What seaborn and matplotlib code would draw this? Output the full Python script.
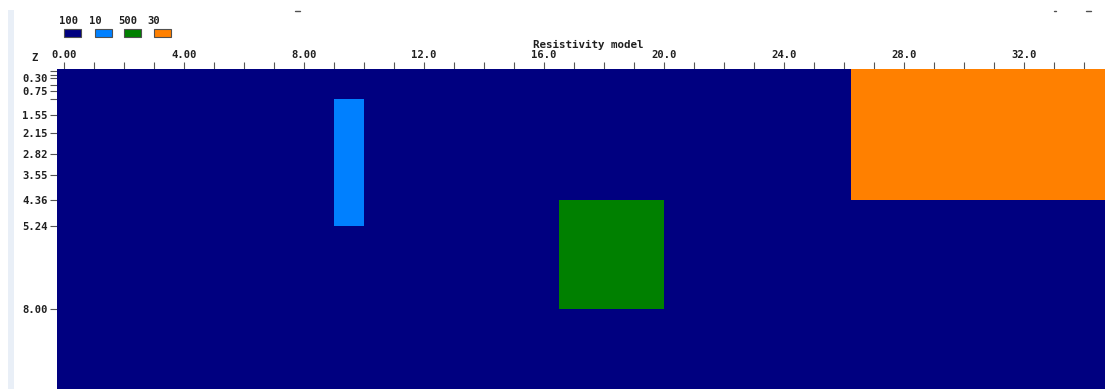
import numpy as np
import matplotlib
matplotlib.use("Agg")
import matplotlib.pyplot as plt
from matplotlib.colors import ListedColormap, BoundaryNorm
from matplotlib.patches import Rectangle
from matplotlib.lines import Line2D
import seaborn as sns

# Resistivity classes shown in the legend (ohm.m) and their colours
legend_values = [100, 10, 500, 30]
legend_colors = ["#000080", "#0080ff", "#008000", "#ff8000"]

# Homogeneous background resistivity
background_res = 100

# Anomalous blocks: horizontal extent (m), depth extent (m), resistivity
block_x_left = [9.0, 16.5, 26.25]
block_x_right = [10.0, 20.0, 36.0]
block_z_top = [1.0, 4.36, 0.0]
block_z_bottom = [5.24, 8.0, 4.36]
block_res = [10, 500, 30]

# Axis tick positions and labels
x_major = [0, 4, 8, 12, 16, 20, 24, 28, 32]
x_labels = ["0.00", "4.00", "8.00", "12.0", "16.0", "20.0", "24.0", "28.0", "32.0"]
depth_ticks = [0.30, 0.75, 1.55, 2.15, 2.82, 3.55, 4.36, 5.24, 8.00]
depth_minor = [0.07, 0.2, 0.53, 1.0]

model_x = (-0.25, 36.0)
model_z = (0.0, 12.0)

sns.set_theme(style="white")
plt.rcParams["font.family"] = ["DejaVu Sans Mono", "DejaVu Sans"]
plt.rcParams["font.weight"] = "bold"

W, H = 1105, 389
fig = plt.figure(figsize=(W / 100, H / 100), dpi=100)
fig.patch.set_facecolor("white")

# Light side strip at the left border of the window
fig.add_artist(Rectangle((8 / W, 0), 6 / W, 1 - 10 / H, transform=fig.transFigure,
                         facecolor="#e9eff7", edgecolor="none"))

ax = fig.add_axes([57 / W, 0, (W - 57) / W, (H - 69) / H])

# Build the model mesh from block boundaries
xs = sorted(set([model_x[0], model_x[1]] + block_x_left + block_x_right))
zs = sorted(set([model_z[0], model_z[1]] + block_z_top + block_z_bottom))
xc = 0.5 * (np.array(xs[:-1]) + np.array(xs[1:]))
zc = 0.5 * (np.array(zs[:-1]) + np.array(zs[1:]))
grid = np.full((len(zc), len(xc)), background_res, dtype=float)
for xl, xr, zt, zb, r in zip(block_x_left, block_x_right, block_z_top, block_z_bottom, block_res):
    mask_x = (xc > xl) & (xc < xr)
    mask_z = (zc > zt) & (zc < zb)
    grid[np.ix_(mask_z, mask_x)] = r

order = sorted(legend_values)
cmap = ListedColormap([legend_colors[legend_values.index(v)] for v in order])
bounds = [0] + [ (order[i] + order[i + 1]) / 2 for i in range(len(order) - 1)] + [1e6]
norm = BoundaryNorm(bounds, cmap.N)
ax.pcolormesh(xs, zs, grid, cmap=cmap, norm=norm, shading="flat")

ax.set_xlim(-0.23, 34.7)
ax.set_ylim(10.67, 0)
for s in ax.spines.values():
    s.set_visible(False)

tick_kw = dict(fontsize=7.6, fontweight="bold", color="#202020")
ax.xaxis.tick_top()
ax.set_xticks(x_major)
ax.set_xticklabels(x_labels, **tick_kw)
ax.set_xticks(np.arange(0, 35, 1), minor=True)
ax.tick_params(axis="x", which="both", length=5, width=0.8, color="#555555", pad=1.5, top=True, bottom=False)
ax.set_yticks(depth_ticks)
ax.set_yticklabels([f"{d:.2f}" for d in depth_ticks], **tick_kw)
ax.set_yticks(depth_minor, minor=True)
ax.tick_params(axis="y", which="both", length=5, width=0.8, color="#555555", pad=1.5, left=True)

fig.text(35 / W, 1 - 58 / H, "Z", ha="center", va="center", **tick_kw)
fig.text(588 / W, 1 - 44.5 / H, "Resistivity model", ha="center", va="center",
         fontsize=7.8, fontweight="bold", color="#202020")

# Colour legend
label_x = [69, 95, 128, 154]
swatch_x = [64, 95, 124, 154]
for v, c, lx, sx in zip(legend_values, legend_colors, label_x, swatch_x):
    fig.text(lx / W, 1 - 21.5 / H, str(v), ha="center", va="center", **tick_kw)
    fig.add_artist(Rectangle((sx / W, 1 - 37 / H), 17 / W, 8 / H, transform=fig.transFigure,
                             facecolor=c, edgecolor="#505050", linewidth=0.8))

# Small window decorations along the top edge
for x0, x1 in [(295, 300), (1054, 1056), (1086, 1091)]:
    fig.add_artist(Line2D([x0 / W, x1 / W], [1 - 10.5 / H, 1 - 10.5 / H],
                          transform=fig.transFigure, color="#505050", linewidth=1))

fig.savefig("out.png", dpi=100, facecolor="white")
